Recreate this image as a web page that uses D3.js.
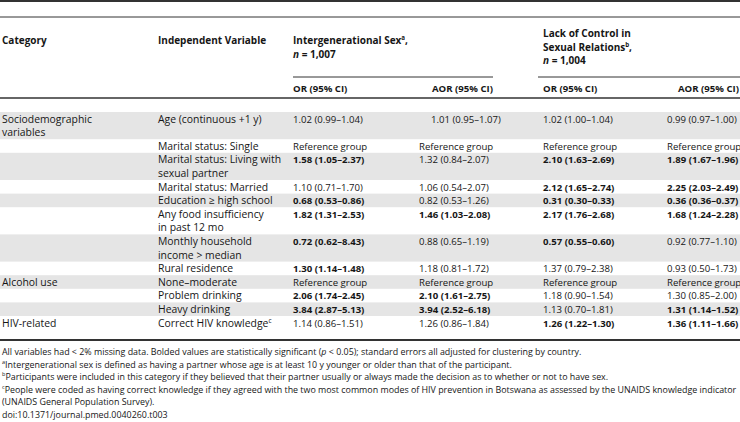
<!DOCTYPE html>
<html>
<head>
<meta charset="utf-8">
<script src="https://cdn.jsdelivr.net/npm/d3@7"></script>
<style>
  body { margin: 0; background: #fff; }
  svg { display: block; font-family: "Open Sans", sans-serif; }
</style>
</head>
<body>
<svg id="svg1"></svg>
<script>
// Table content ("\n" = line break, "^a" = superscript, "_x_" = italic)
const categories = ["Sociodemographic\nvariables", "", "", "", "", "", "", "", "Alcohol use", "", "", "HIV-related"];
const variables = [
  "Age (continuous +1 y)", "Marital status: Single", "Marital status: Living with\nsexual partner",
  "Marital status: Married", "Education \u2265 high school", "Any food insufficiency\nin past 12 mo",
  "Monthly household\nincome > median", "Rural residence", "None\u2013moderate",
  "Problem drinking", "Heavy drinking", "Correct HIV knowledge^c"
];
const orIG = ["1.02 (0.99–1.04)", "Reference group", "1.58 (1.05–2.37)", "1.10 (0.71–1.70)", "0.68 (0.53–0.86)", "1.82 (1.31–2.53)",
  "0.72 (0.62–8.43)", "1.30 (1.14–1.48)", "Reference group", "2.06 (1.74–2.45)", "3.84 (2.87–5.13)", "1.14 (0.86–1.51)"];
const aorIG = ["1.01 (0.95–1.07)", "Reference group", "1.32 (0.84–2.07)", "1.06 (0.54–2.07)", "0.82 (0.53–1.26)", "1.46 (1.03–2.08)",
  "0.88 (0.65–1.19)", "1.18 (0.81–1.72)", "Reference group", "2.10 (1.61–2.75)", "3.94 (2.52–6.18)", "1.26 (0.86–1.84)"];
const orLC = ["1.02 (1.00–1.04)", "Reference group", "2.10 (1.63–2.69)", "2.12 (1.65–2.74)", "0.31 (0.30–0.33)", "2.17 (1.76–2.68)",
  "0.57 (0.55–0.60)", "1.37 (0.79–2.38)", "Reference group", "1.18 (0.90–1.54)", "1.13 (0.70–1.81)", "1.26 (1.22–1.30)"];
const aorLC = ["0.99 (0.97–1.00)", "Reference group", "1.89 (1.67–1.96)", "2.25 (2.03–2.49)", "0.36 (0.36–0.37)", "1.68 (1.24–2.28)",
  "0.92 (0.77–1.10)", "0.93 (0.50–1.73)", "Reference group", "1.30 (0.85–2.00)", "1.31 (1.14–1.52)", "1.36 (1.11–1.66)"];
// significant (bold) flags
const sigOrIG  = [0, 0, 1, 0, 1, 1, 1, 1, 0, 1, 1, 0];
const sigAorIG = [0, 0, 0, 0, 0, 1, 0, 0, 0, 1, 1, 0];
const sigOrLC  = [0, 0, 1, 1, 1, 1, 1, 0, 0, 0, 0, 1];
const sigAorLC = [0, 0, 1, 1, 1, 1, 0, 0, 0, 0, 1, 1];

const headCategory = "Category";
const headVariable = "Independent Variable";
const groupHeads = ["Intergenerational Sex^a,\n_n_ = 1,007", "Lack of Control in\nSexual Relations^b,\n_n_ = 1,004"];
const subHeads = ["OR (95% CI)", "AOR (95% CI)", "OR (95% CI)", "AOR (95% CI)"];
const footnotes = [
  "All variables had < 2% missing data. Bolded values are statistically significant (_p_ < 0.05); standard errors all adjusted for clustering by country.",
  "^aIntergenerational sex is defined as having a partner whose age is at least 10 y younger or older than that of the participant.",
  "^bParticipants were included in this category if they believed that their partner usually or always made the decision as to whether or not to have sex.",
  "^cPeople were coded as having correct knowledge if they agreed with the two most common modes of HIV prevention in Botswana as assessed by the UNAIDS knowledge indicator",
  "(UNAIDS General Population Survey).",
  "doi:10.1371/journal.pmed.0040260.t003"
];

const W = 740, H = 422;
const ink = "#161616", rule = "#333", shade = "#e5e5e5";
const fs = 10.4, valFs = 9.6, headFs = 10, subFs = 9.6, footFs = 8.9, lineH = 13.6;

const svg = d3.select("#svg1").attr("width", W).attr("height", H);

// write rich text into a <text>, handling ^x superscripts and _x_ italics
function rich(textSel, str) {
  str.split(/(\^[a-z]|_[^_]+_)/).filter(s => s).forEach(s => {
    if (s[0] === "^") {
      textSel.append("tspan").attr("font-size", "62%").attr("baseline-shift", "super").text(s.slice(1));
    } else if (s[0] === "_") {
      textSel.append("tspan").attr("font-style", "italic").text(s.slice(1, -1));
    } else {
      textSel.append("tspan").text(s);
    }
  });
}

function cell(x, y, str, bold, size) {
  str.split("\n").forEach((ln, i) => {
    const t = svg.append("text")
      .attr("x", x).attr("y", y + i * lineH)
      .attr("font-size", size || fs)
      .attr("font-weight", bold ? "bold" : null)
      .attr("fill", ink);
    rich(t, ln);
  });
}

// columns
const colX = d3.scaleOrdinal()
  .domain(["cat", "var", "orIG", "aorIG", "orLC", "aorLC"])
  .range([2, 158, 293, 419, 543, 667]);
const subHeadX = [293, 432, 543, 678];

// rows: line offsets
const rowLines = variables.map((v, i) =>
  d3.max([categories[i], v, orIG[i], aorIG[i], orLC[i], aorLC[i]], s => s.split("\n").length));
const rowStart = d3.cumsum([0].concat(rowLines)).slice(0, -1);
const totalLines = d3.sum(rowLines);
const y = d3.scaleLinear().domain([0, totalLines]).range([112, 112 + totalLines * lineH]);

// shading
svg.append("g").selectAll("rect")
  .data(variables.map((v, i) => i).filter(i => i % 2 === 0))
  .join("rect")
  .attr("x", 0).attr("width", W)
  .attr("y", i => y(rowStart[i]))
  .attr("height", i => y(rowStart[i] + rowLines[i]) - y(rowStart[i]))
  .attr("fill", shade);

// rules
const hline = (y0, x0, x1, w) => svg.append("line")
  .attr("x1", x0).attr("x2", x1).attr("y1", y0).attr("y2", y0)
  .attr("stroke", rule).attr("stroke-width", w);
hline(1, 0, W, 2);
hline(17, 0, W, 1);
hline(77, 293, 493, 1);
hline(77, 538, W, 1);
hline(98, 0, W, 1.5);
hline(340, 0, W, 2);

// header
cell(colX("cat"), 44, headCategory, true, headFs);
cell(colX("var"), 44, headVariable, true, headFs);
cell(colX("orIG"), 44, groupHeads[0], true, headFs);
cell(colX("orLC"), 37, groupHeads[1], true, headFs);
subHeads.forEach((s, i) => cell(subHeadX[i], 92, s, true, subFs));

// body
const base = i => y(rowStart[i]) + 10.5;
variables.forEach((v, i) => {
  cell(colX("cat"), base(i), categories[i], false);
  cell(colX("var"), base(i), v, false);
  cell(colX("orIG"), base(i), orIG[i], sigOrIG[i], valFs);
  cell(i === 0 ? 431 : colX("aorIG"), base(i), aorIG[i], sigAorIG[i], valFs);
  cell(colX("orLC"), base(i), orLC[i], sigOrLC[i], valFs);
  cell(colX("aorLC"), base(i), aorLC[i], sigAorLC[i], valFs);
});

// footnotes
footnotes.forEach((f, i) => {
  const t = svg.append("text")
    .attr("x", 2).attr("y", 355 + i * 12.6)
    .attr("font-size", footFs).attr("fill", ink);
  rich(t, f);
});
</script>
</body>
</html>
